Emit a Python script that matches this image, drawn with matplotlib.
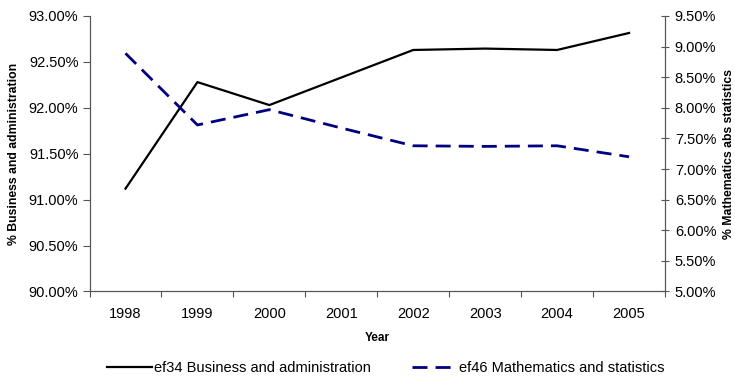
import matplotlib
matplotlib.use("Agg")
import matplotlib.pyplot as plt
from matplotlib.ticker import FuncFormatter, FixedLocator
import numpy as np

plt.rcParams['font.family'] = ['Liberation Sans', 'DejaVu Sans']

# data
years = ['1998', '1999', '2000', '2001', '2002', '2003', '2004', '2005']
business = [91.12, 92.28, 92.03, 92.33, 92.63, 92.645, 92.63, 92.815]
maths = [8.89, 7.72, 7.97, 7.67, 7.38, 7.37, 7.38, 7.20]

left_ticks = [90.0, 90.5, 91.0, 91.5, 92.0, 92.5, 93.0]
right_ticks = [5.0, 5.5, 6.0, 6.5, 7.0, 7.5, 8.0, 8.5, 9.0, 9.5]

pct = FuncFormatter(lambda v, p: f'{v:.2f}%')
axis_col = '#555555'

fig = plt.figure(figsize=(7.35, 3.77), dpi=100)
ax = fig.add_axes([0.1218, 0.2268, 0.783, 0.7308])
ax2 = ax.twinx()

x = np.arange(len(years))
l1, = ax.plot(x, business, color='black', lw=1.6, label='ef34 Business and administration')
l2, = ax2.plot(x, maths, color='#000080', lw=2.0, dashes=(5.4, 2.9),
               label='ef46 Mathematics and statistics')

ax.set_xlim(-0.5, len(years) - 0.5)
ax.set_ylim(90, 93)
ax2.set_ylim(5, 9.5)

# category ticks at boundaries, labels centred
ax.xaxis.set_major_locator(FixedLocator(np.arange(-0.5, len(years), 1.0)))
ax.xaxis.set_minor_locator(FixedLocator(x))
ax.set_xticklabels([])
ax.set_xticklabels(years, minor=True)
ax.tick_params(axis='x', which='major', direction='out', length=4, width=0.8, color=axis_col)
ax.tick_params(axis='x', which='minor', length=0, pad=11, labelsize=10.5)

ax.set_yticks(left_ticks)
ax.yaxis.set_major_formatter(pct)
ax.tick_params(axis='y', direction='out', length=5, width=0.8, pad=3,
               labelsize=10.5, color=axis_col)

ax2.set_yticks(right_ticks)
ax2.yaxis.set_major_formatter(pct)
ax2.tick_params(axis='y', direction='inout', length=6, width=0.8, pad=4,
                labelsize=10.5, color=axis_col)

for a in (ax, ax2):
    a.spines['top'].set_visible(False)
    for s in ('left', 'bottom', 'right'):
        a.spines[s].set_color(axis_col)
        a.spines[s].set_linewidth(0.8)

ax.set_xlabel('Year', fontsize=8.5, fontweight='bold', labelpad=8)
ax.set_ylabel('% Business and administration', fontsize=8.8, fontweight='bold', labelpad=6)
ax2.set_ylabel('% Mathematics abs statistics', fontsize=8.8, fontweight='bold', labelpad=5)

fig.legend(handles=[l1, l2], loc='center', bbox_to_anchor=(0.525, 0.024), ncol=2,
           frameon=False, fontsize=10.5, handlelength=3.1, handletextpad=0.15,
           columnspacing=2.8, borderpad=0)

fig.savefig('out.png', dpi=100)
